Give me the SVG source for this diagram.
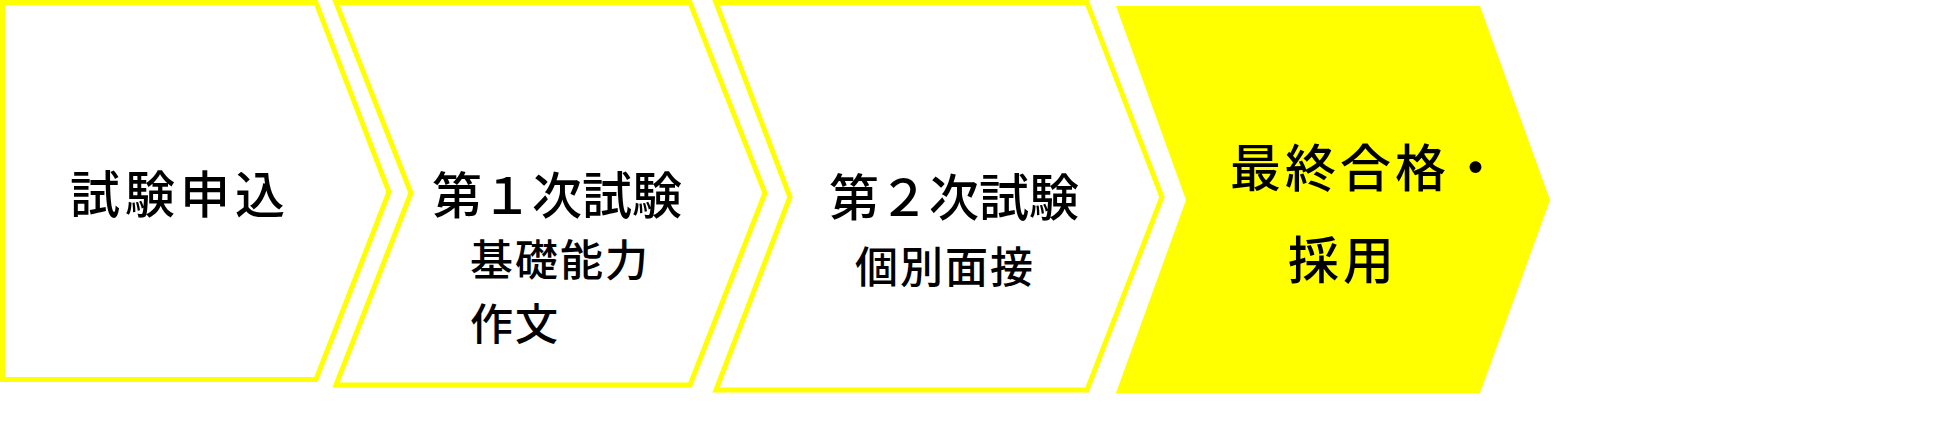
<svg xmlns="http://www.w3.org/2000/svg" width="1933" height="434" viewBox="0 0 1933 434">
<style>
.out{fill:#ffffff;stroke:#ffff00;stroke-width:5;stroke-linejoin:miter}
.fill{fill:#ffff00;stroke:none}
.t{font-family:"Noto Sans CJK JP","Noto Sans CJK SC",sans-serif;font-weight:500;fill:#000000}
.big{font-size:50px}
.sub{font-size:43px;letter-spacing:2px}
</style>
<rect width="1933" height="434" fill="#ffffff"/>
<g id="connectors"></g>
<g id="node1">
<polygon class="out" points="2.5,2.5 316,2.5 389,192 316,379.5 2.5,379.5"/>
<text class="t big" x="70" y="213" style="letter-spacing:5px">試験申込</text>
</g>
<g id="node2">
<polygon class="out" points="336,2.5 690,2.5 765,193 690,385 336,385 411,193"/>
<text class="t big" x="432" y="214">第１次試験</text>
<text class="t sub" x="470" y="276">基礎能力</text>
<text class="t sub" x="470" y="340">作文</text>
</g>
<g id="node3">
<polygon class="out" points="716,2.5 1087,2.5 1162,197 1087,390 716,390 790,197"/>
<text class="t big" x="829" y="216">第２次試験</text>
<text class="t sub" x="855" y="283">個別面接</text>
</g>
<g id="node4">
<polygon class="fill" points="1116,6 1480,6 1550,200 1480,393 1116,393 1186,200"/>
<text class="t" x="1230" y="187" style="font-size:51px;letter-spacing:4px">最終合格・</text>
<text class="t" x="1288" y="279" style="font-size:51px;letter-spacing:4px">採用</text>
</g>
</svg>
